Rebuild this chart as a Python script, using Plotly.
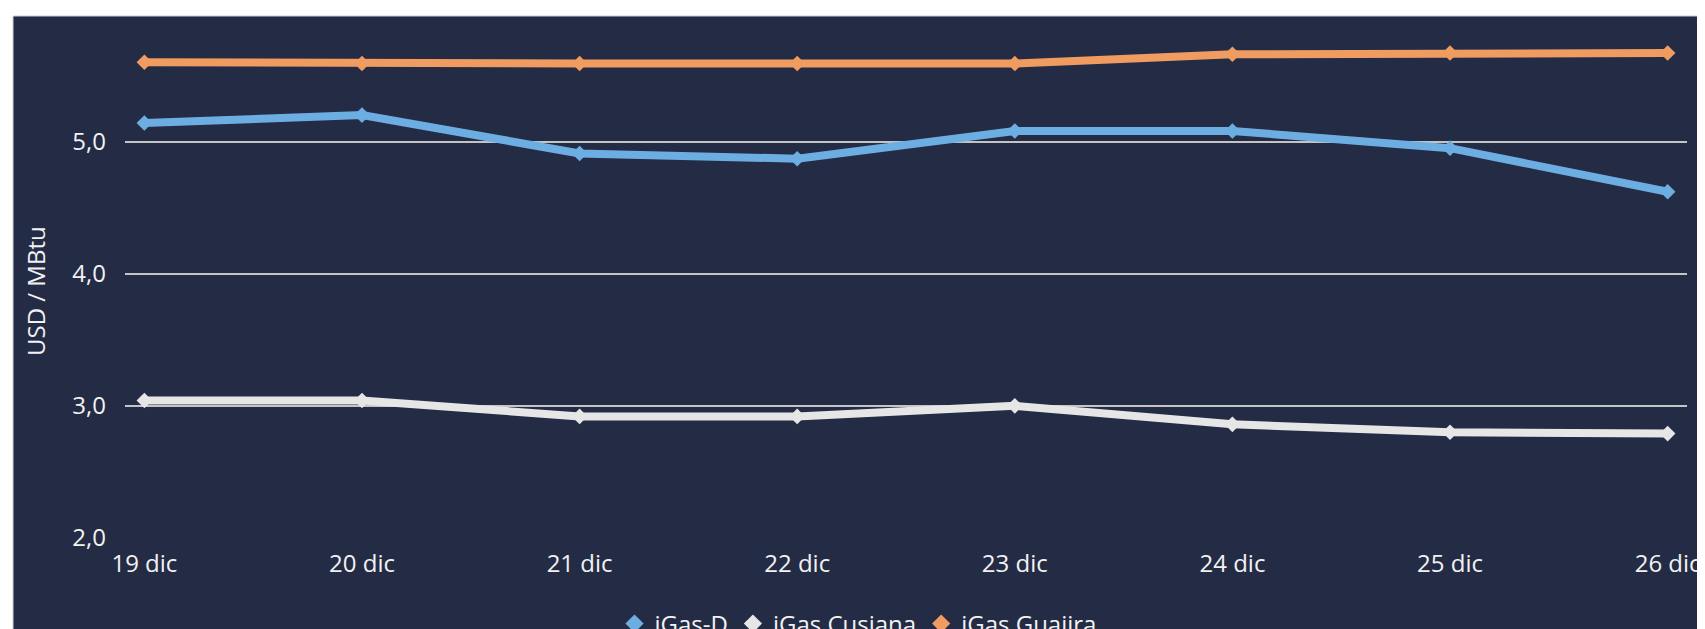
import plotly.graph_objects as go

categories = ["19 dic", "20 dic", "21 dic", "22 dic", "23 dic", "24 dic", "25 dic", "26 dic"]
igas_d = [5.14, 5.20, 4.91, 4.87, 5.08, 5.08, 4.95, 4.62]
igas_cusiana = [3.04, 3.04, 2.92, 2.92, 3.00, 2.86, 2.80, 2.79]
igas_guajira = [5.60, 5.59, 5.59, 5.59, 5.59, 5.66, 5.67, 5.67]
y_ticks = [2, 3, 4, 5]
y_tick_labels = ["2,0", "3,0", "4,0", "5,0"]

series = [
    ("iGas-D", igas_d, "#6DAEE2"),
    ("iGas Cusiana", igas_cusiana, "#E6E6E6"),
    ("iGas Guajira", igas_guajira, "#F09B60"),
]

BG = "#242B45"
FONT = "Open Sans"
OFF = 8  # page body margin
W, H = 1705 - OFF, 629 - OFF
L, R, T, B = 125 - OFF, 18, 16 - OFF, 91


def px_x(p):
    return (p - OFF - L) / (W - L - R)


def px_y(p):
    return (H - B - (p - OFF)) / (H - T - B)


fig = go.Figure()
xs = list(range(len(categories)))
for name, vals, col in series:
    fig.add_trace(go.Scatter(
        x=xs, y=vals, mode="lines+markers", name=name, showlegend=False,
        line=dict(color=col, width=8),
        marker=dict(symbol="diamond", size=12, color=col),
        cliponaxis=False,
    ))
for name, vals, col in series:
    fig.add_trace(go.Scatter(
        x=[None], y=[None], mode="markers", name=name, showlegend=True,
        marker=dict(symbol="diamond", size=14, color=col),
    ))

fig.add_shape(type="rect", xref="paper", yref="paper",
              x0=px_x(13), x1=px_x(1730),
              y0=px_y(660), y1=px_y(16),
              fillcolor=BG, line=dict(color="#CFCFCF", width=1), layer="below")

fig.add_annotation(text="USD / MBtu", textangle=-90, xref="paper", yref="paper",
                   x=px_x(35), y=px_y(291), showarrow=False,
                   xanchor="center", yanchor="middle",
                   font=dict(family=FONT, size=24, color="#F2F2F2"))

fig.update_layout(
    width=W, height=H,
    margin=dict(l=L, r=R, t=T, b=B, autoexpand=False),
    paper_bgcolor="white", plot_bgcolor=BG,
    font=dict(family=FONT, size=24, color="#F2F2F2"),
    xaxis=dict(
        tickmode="array", tickvals=xs, ticktext=categories,
        range=[-0.089, 7.089], showgrid=False, zeroline=False, showline=False,
        ticks="", ticklabelstandoff=9,
        tickfont=dict(family=FONT, size=24, color="#F2F2F2"),
    ),
    yaxis=dict(
        tickmode="array", tickvals=y_ticks, ticktext=y_tick_labels,
        range=[2, 5.95], showgrid=True, gridcolor="#C4C4C4", gridwidth=2,
        zeroline=False, showline=False, ticks="", ticklabelstandoff=18,
        tickfont=dict(family=FONT, size=24, color="#F2F2F2"),
    ),
    legend=dict(
        orientation="h", x=px_x(858), xanchor="center",
        y=px_y(624), yanchor="middle",
        bgcolor="rgba(0,0,0,0)", font=dict(family=FONT, size=24, color="#F2F2F2"),
        itemwidth=30, tracegroupgap=0,
    ),
    showlegend=True,
)

fig.write_html("out.html")
